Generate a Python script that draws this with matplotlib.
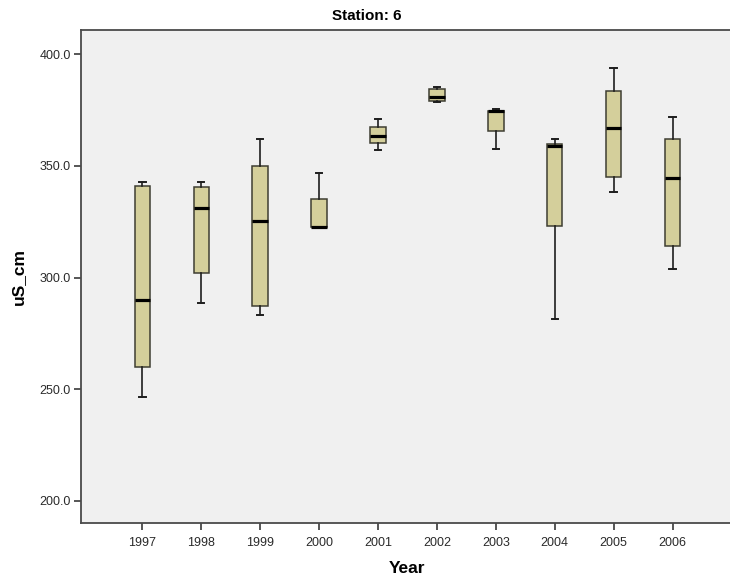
import matplotlib
matplotlib.use("Agg")
import matplotlib.pyplot as plt

# Conductivity (uS/cm) summary per year for station 6
years = ["1997", "1998", "1999", "2000", "2001", "2002", "2003", "2004", "2005", "2006"]
whisker_low = [246.6, 288.5, 283.3, 322.5, 357.2, 378.6, 357.5, 281.4, 338.2, 303.7]
quartile_1 = [260.1, 302.2, 287.3, 322.5, 360.4, 379.1, 365.7, 323.3, 344.9, 314.3]
medians = [290.0, 331.3, 325.1, 322.5, 363.6, 381.0, 374.6, 358.9, 367.0, 344.8]
quartile_3 = [341.0, 340.7, 350.0, 335.2, 367.6, 384.3, 374.8, 359.8, 383.6, 362.2]
whisker_high = [343.0, 343.0, 362.1, 346.7, 370.9, 385.2, 375.4, 362.1, 394.0, 372.1]
y_ticks = [200, 250, 300, 350, 400]

stats = [
    dict(label=y, whislo=lo, q1=a, med=m, q3=b, whishi=hi, fliers=[])
    for y, lo, a, m, b, hi in zip(years, whisker_low, quartile_1, medians,
                                  quartile_3, whisker_high)
]

fig = plt.figure(figsize=(7.3, 5.8), dpi=100)
fig.patch.set_facecolor("white")
ax = fig.add_axes([80.7 / 730, 57 / 580, 653.5 / 730, 493 / 580])
ax.set_facecolor("#f0f0f0")

positions = list(range(1, len(years) + 1))
ax.bxp(
    stats,
    positions=positions,
    widths=0.26,
    capwidths=0.11,
    patch_artist=True,
    showfliers=False,
    boxprops=dict(facecolor="#d4cf9b", edgecolor="#3e3e32", linewidth=1.1),
    medianprops=dict(color="black", linewidth=2.3, solid_capstyle="butt"),
    whiskerprops=dict(color="#1e1e1e", linewidth=1.2),
    capprops=dict(color="#1e1e1e", linewidth=1.4),
)

ax.set_xlim(-0.045, 11.045)
ax.set_ylim(190.0, 410.9)
ax.set_yticks(y_ticks)
ax.set_yticklabels([f"{v:.1f}" for v in y_ticks])
ax.set_xticks(positions)
ax.set_xticklabels(years)

for side in ("left", "bottom", "top"):
    ax.spines[side].set_color("#4a4a4a")
    ax.spines[side].set_linewidth(1.3)
ax.spines["right"].set_visible(False)

tick_family = ["Liberation Sans", "DejaVu Sans"]
for lbl in ax.get_xticklabels() + ax.get_yticklabels():
    lbl.set_fontfamily(tick_family)
    lbl.set_fontsize(9)
    lbl.set_color("#2a2a2a")
ax.tick_params(axis="both", direction="out", length=5, width=1.2,
               color="#3a3a3a")
ax.tick_params(axis="y", pad=2)
ax.tick_params(axis="x", pad=5)

ax.set_xlabel("Year", fontsize=12.5, fontweight="bold",
              family=["Liberation Sans", "DejaVu Sans"], labelpad=9)
ax.set_ylabel("uS_cm", fontsize=12.5, fontweight="bold",
              family=["Liberation Sans", "DejaVu Sans"], labelpad=10)

fig.text(0.503, 1 - 16 / 580, "Station: 6", ha="center", va="center",
         fontsize=11, fontweight="bold",
         family=["Liberation Sans Narrow", "Liberation Sans", "DejaVu Sans"])

fig.savefig("out.png", dpi=100, facecolor=fig.get_facecolor())
